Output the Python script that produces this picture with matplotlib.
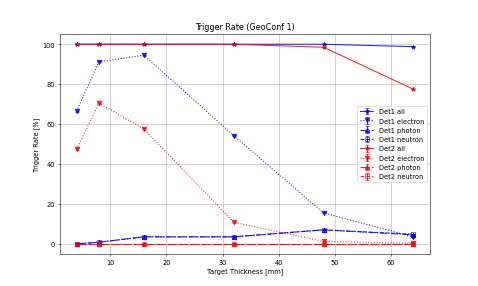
import matplotlib
matplotlib.use("Agg")
import matplotlib.pyplot as plt

# Target thickness [mm]
thickness = [4, 8, 16, 32, 48, 64]

# Trigger rates [%]
det1_all = [100, 100, 100, 100, 100, 98.8]
det1_electron = [66.5, 91.2, 94.5, 54.2, 15.5, 3.5]
det1_photon = [0.0, 0.8, 3.5, 3.5, 7.0, 4.5]
det1_neutron = [0.0, 0.8, 3.5, 3.5, 7.0, 4.8]

det2_all = [100, 100, 100, 100, 98.5, 77.5]
det2_electron = [47.5, 70.5, 57.5, 10.8, 1.2, 0.3]
det2_photon = [0.0, 0.0, 0.0, 0.0, 0.0, 0.0]
det2_neutron = [0.0, 0.0, 0.0, 0.0, 0.0, 0.0]

errors = [0.3, 0.3, 0.3, 0.3, 0.3, 0.3]

series = [
    ("Det1 all", det1_all, "blue", "-", "*"),
    ("Det1 electron", det1_electron, "blue", ":", "v"),
    ("Det1 photon", det1_photon, "blue", "-.", "^"),
    ("Det1 neutron", det1_neutron, "blue", "--", "s"),
    ("Det2 all", det2_all, "red", "-", "*"),
    ("Det2 electron", det2_electron, "red", ":", "v"),
    ("Det2 photon", det2_photon, "red", "-.", "^"),
    ("Det2 neutron", det2_neutron, "red", "--", "s"),
]

fig, ax = plt.subplots(figsize=(10, 6), dpi=47.8)
for label, vals, color, ls, mk in series:
    face = "none" if mk == "s" else color
    ax.errorbar(thickness, vals, yerr=errors, color=color, linestyle=ls,
                marker=mk, markerfacecolor=face, markersize=7,
                capsize=3, label=label, linewidth=1.6, alpha=0.85)

ax.set_title("Trigger Rate (GeoConf 1)")
ax.set_xlabel("Target Thickness [mm]")
ax.set_ylabel("Trigger Rate [%]")
ax.grid(True)
ax.legend(loc="center right")

fig.savefig("out.png", dpi=47.8)
